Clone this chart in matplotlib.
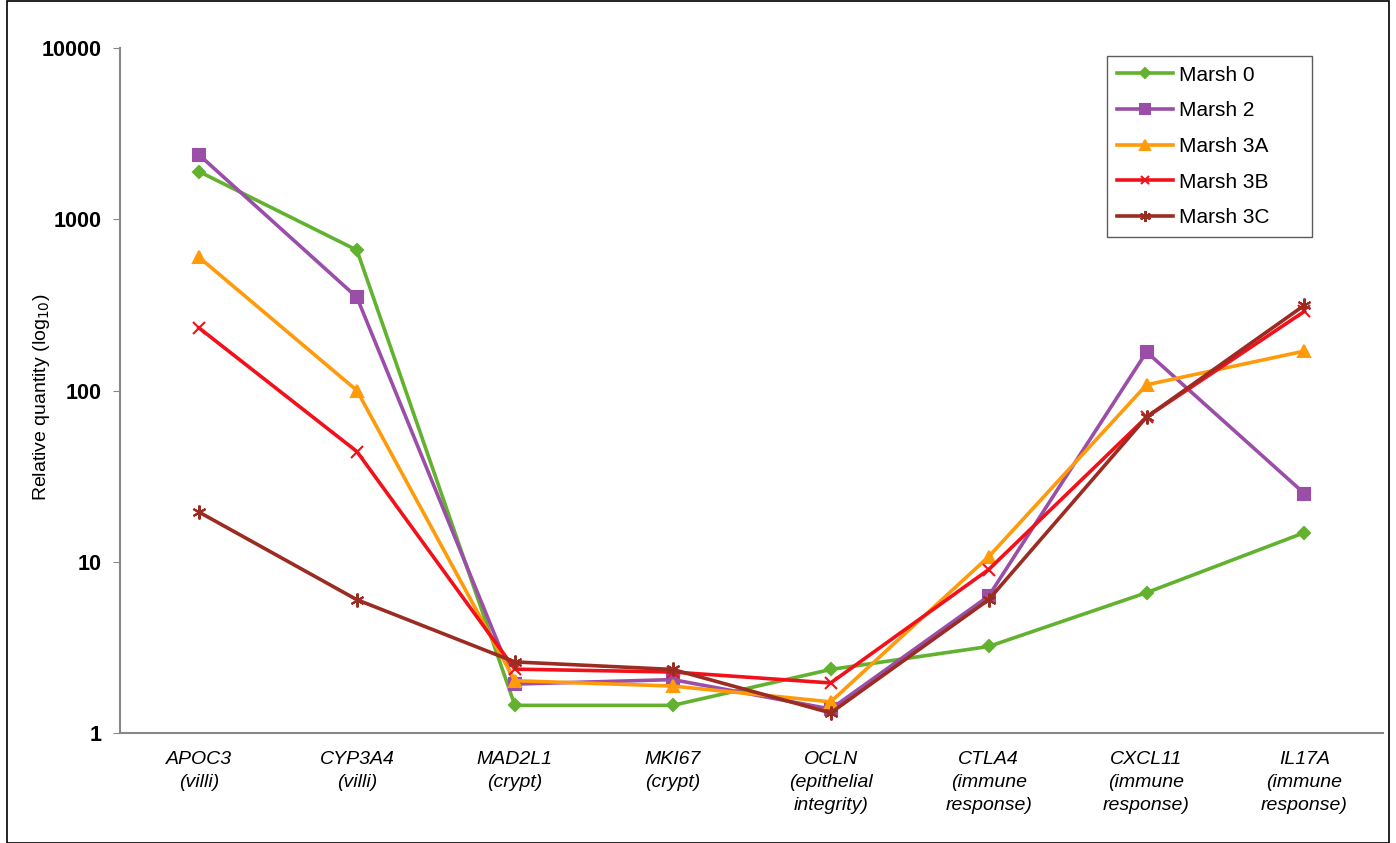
import matplotlib
matplotlib.use('Agg')
import matplotlib.pyplot as plt
from matplotlib.patches import Rectangle
from matplotlib.ticker import NullLocator, FixedLocator, FixedFormatter

plt.rcParams['font.family'] = ['Liberation Sans', 'DejaVu Sans']

genes = ['APOC3\n(villi)', 'CYP3A4\n(villi)', 'MAD2L1\n(crypt)', 'MKI67\n(crypt)',
         'OCLN\n(epithelial\nintegrity)', 'CTLA4\n(immune\nresponse)',
         'CXCL11\n(immune\nresponse)', 'IL17A\n(immune\nresponse)']

marsh0 = [1900, 660, 1.45, 1.45, 2.35, 3.2, 6.6, 14.8]
marsh2 = [2380, 350, 1.93, 2.05, 1.38, 6.3, 168, 25]
marsh3a = [600, 100, 2.02, 1.88, 1.52, 10.7, 108, 170]
marsh3b = [232, 44, 2.36, 2.27, 1.96, 9.0, 70, 290]
marsh3c = [19.5, 6.0, 2.6, 2.35, 1.31, 6.0, 70, 315]

series = [
    ('Marsh 0', marsh0, '#62b22f', 'D', 6),
    ('Marsh 2', marsh2, '#9a4ea8', 's', 9),
    ('Marsh 3A', marsh3a, '#ff9a0a', '^', 9),
    ('Marsh 3B', marsh3b, '#f2111b', 'x', 8),
    ('Marsh 3C', marsh3c, '#9c2b22', (6, 2, 0), 10),
]

fig = plt.figure(figsize=(13.96, 8.43), dpi=100)
ax = fig.add_axes([0.086, 0.1305, 0.905, 0.8125])

x = list(range(len(genes)))
for name, vals, col, mk, ms in series:
    ax.plot(x, vals, color=col, lw=2.6, marker=mk, markersize=ms,
            markeredgewidth=1.5, markeredgecolor=col, label=name)

ax.set_yscale('log')
ax.set_ylim(1, 10000)
ax.set_xlim(-0.5, len(genes) - 0.5)
ax.yaxis.set_major_locator(FixedLocator([1, 10, 100, 1000, 10000]))
ax.yaxis.set_major_formatter(FixedFormatter(['1', '10', '100', '1000', '10000']))
ax.yaxis.set_minor_locator(NullLocator())
ax.set_xticks(x)
ax.set_xticklabels(genes, fontstyle='italic', fontsize=14, linespacing=1.45)
ax.tick_params(axis='x', length=0, pad=13)
ax.tick_params(axis='y', labelsize=15.5, length=5, color='#888888', direction='out', pad=8)
for lbl in ax.get_yticklabels():
    lbl.set_fontweight('semibold')

for s in ['top', 'right']:
    ax.spines[s].set_visible(False)
for s in ['left', 'bottom']:
    ax.spines[s].set_color('#888888')
    ax.spines[s].set_linewidth(1.5)

ax.set_ylabel('Relative quantity (log$_{10}$)', fontsize=14)
ax.yaxis.set_label_coords(-0.054, 0.49)

leg = ax.legend(loc='upper left', bbox_to_anchor=(0.7815, 0.731, 0.1623, 0.257),
                mode='expand', fontsize=15, frameon=True, fancybox=False,
                edgecolor='#333333', handlelength=2.7, borderpad=0.45,
                labelspacing=0.8, handletextpad=0.3, markerscale=0.8,
                borderaxespad=0)
leg.get_frame().set_linewidth(1.0)

fig.patches.append(Rectangle((0.005, 0.0), 0.99, 0.999, transform=fig.transFigure,
                             fill=False, edgecolor='black', lw=1.2))

fig.savefig('out.png', dpi=100)
